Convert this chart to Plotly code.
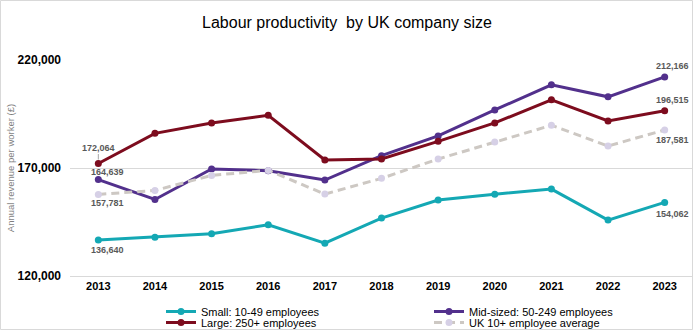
import plotly.graph_objects as go

years = ["2013", "2014", "2015", "2016", "2017", "2018", "2019", "2020", "2021", "2022", "2023"]

small = [136640, 137980, 139600, 143700, 135200, 146800, 155150, 157900, 160250, 145870, 154062]
mid = [164639, 155430, 169540, 168750, 164430, 175700, 184850, 196900, 208500, 202950, 212166]
large = [172064, 186050, 190880, 194400, 173700, 174150, 182350, 190880, 201550, 191800, 196515]
uk_avg = [157781, 159600, 166570, 168900, 157930, 165200, 174150, 182060, 189770, 180200, 187581]

y_ticks = [120000, 170000, 220000]

FONT = "Liberation Sans, Arial, sans-serif"
TEAL = "#14a8b4"
PURPLE = "#52308c"
RED = "#7d0c1e"
GREY = "#cdc8c3"
LABEL = "#595959"

fig = go.Figure()
fig.add_trace(go.Scatter(x=years, y=small, name="Small: 10-49 employees", mode="lines+markers",
                         line=dict(color=TEAL, width=3), marker=dict(size=7, color=TEAL),
                         legend="legend"))
fig.add_trace(go.Scatter(x=years, y=mid, name="Mid-sized: 50-249 employees", mode="lines+markers",
                         line=dict(color=PURPLE, width=3), marker=dict(size=7, color=PURPLE),
                         legend="legend"))
fig.add_trace(go.Scatter(x=years, y=large, name="Large: 250+ employees", mode="lines+markers",
                         line=dict(color=RED, width=3), marker=dict(size=7, color=RED),
                         legend="legend2"))
fig.add_trace(go.Scatter(x=years, y=uk_avg, name="UK 10+ employee average", mode="lines+markers",
                         line=dict(color=GREY, width=3, dash="8px,5px"),
                         marker=dict(size=7, color="#d6d0e6"), legend="legend2"))

LABEL_FONT = dict(family=FONT, size=9, color=LABEL, weight="bold")


# value labels at the first and last year (x given as category index)
def label(idx, y, yshift, xshift=0, arrow=False):
    txt = f"{y:,}"
    if arrow:
        fig.add_annotation(x=idx, y=y, text=txt, showarrow=True, arrowhead=0, arrowwidth=1,
                           arrowcolor="#a6a6a6", ax=xshift, ay=-yshift, standoff=4,
                           font=LABEL_FONT)
    else:
        fig.add_annotation(x=idx, y=y, text=txt, showarrow=False, yshift=yshift,
                           xshift=xshift, yanchor="middle", font=LABEL_FONT)


last = len(years) - 1
label(0, large[0], 16, 0, arrow=True)
label(0, mid[0], 8, 9)
label(0, uk_avg[0], -9, 9)
label(0, small[0], -10, 9)
label(last, mid[-1], 11, 8)
label(last, large[-1], 11, 8)
label(last, uk_avg[-1], -10, 8)
label(last, small[-1], -12, 8)

ML, MR, MT, MB = 70, 1, 60, 54
W, H = 694, 330
pw, ph = W - ML - MR, H - MT - MB

# outer chart frame
fig.add_shape(type="rect", xref="paper", yref="paper",
              x0=(0.5 - ML) / pw, x1=(W - 1.5 - ML) / pw,
              y0=(0.5 - MB) / ph, y1=(H - MB - 0.5) / ph,
              line=dict(color="#d9d9d9", width=1), layer="below")

LEGEND_COMMON = dict(orientation="h", xref="container", yref="container",
                     x=161 / W, xanchor="left", yanchor="top",
                     entrywidth=223, entrywidthmode="pixels", tracegroupgap=0,
                     itemwidth=30, bgcolor="rgba(0,0,0,0)",
                     font=dict(family=FONT, size=11, color="#000000"))

fig.update_layout(
    width=W, height=H,
    margin=dict(l=ML, r=MR, t=MT, b=MB, autoexpand=False),
    paper_bgcolor="white", plot_bgcolor="white",
    title=dict(text="Labour productivity  by UK company size", x=0.5, xref="container",
               y=1 - 22 / H, yref="container", yanchor="middle",
               font=dict(family=FONT, size=16, color="#000000")),
    xaxis=dict(type="category", range=[-0.5, 10.5], showgrid=False, showline=True,
               linecolor="#d9d9d9", linewidth=1, ticks="", automargin=False,
               tickfont=dict(family=FONT, size=11, color="#000000", weight="bold")),
    yaxis=dict(range=[120000, 220000], tickvals=y_ticks, tickformat=",",
               showgrid=True, gridcolor="#d9d9d9", gridwidth=1, zeroline=False,
               showline=False, ticks="", automargin=False, ticklabelstandoff=8,
               tickfont=dict(family=FONT, size=12, color="#000000", weight="bold"),
               title=dict(text="Annual revenue per worker (£)", standoff=1,
                          font=dict(family=FONT, size=9.5, color="#7f7f7f"))),
    legend=dict(LEGEND_COMMON, y=1 - 297 / H),
    legend2=dict(LEGEND_COMMON, y=1 - 308 / H),
    showlegend=True,
)

fig.write_html("out.html")
